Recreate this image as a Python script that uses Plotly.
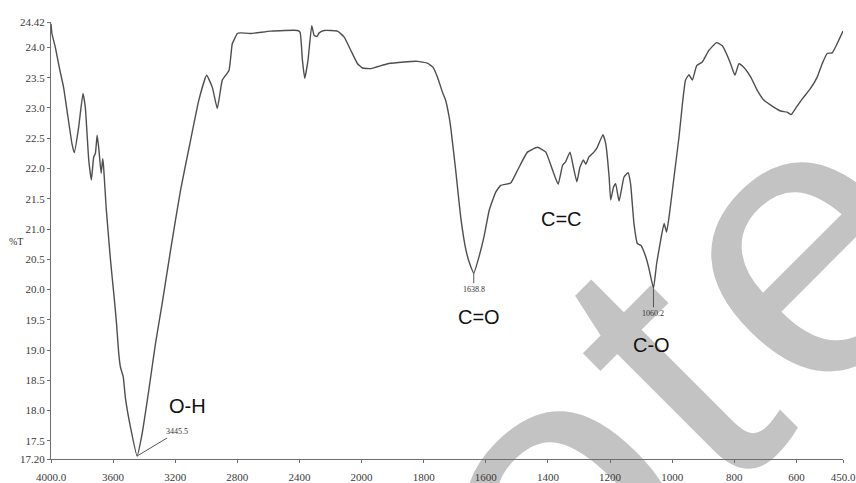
import plotly.graph_objects as go

# FTIR spectrum: wavenumber (cm-1) and transmittance (%T)
wavenumber = [4000, 3994, 3972, 3945, 3919, 3897, 3865, 3850, 3822, 3794, 3779, 3757, 3740,
              3725, 3714, 3703, 3693, 3677, 3667, 3661, 3645, 3639, 3617, 3596, 3579, 3564,
              3553, 3535, 3521, 3493, 3445.5, 3413, 3370, 3327, 3284, 3230, 3166, 3101, 3048,
              2998, 2961, 2929, 2897, 2854, 2833, 2822, 2800, 2779, 2714, 2585, 2413, 2396,
              2381, 2366, 2345, 2321, 2306, 2288, 2273, 2241, 2155, 2112, 2069, 2026, 1997,
              1970, 1916, 1863, 1820, 1788, 1770, 1755, 1739, 1729, 1718, 1713, 1697, 1681,
              1664, 1650, 1638.8, 1622, 1606, 1589, 1568, 1552, 1520, 1498, 1466, 1434, 1407,
              1385, 1367, 1353, 1343, 1329, 1318, 1307, 1297, 1286, 1278, 1268, 1252, 1241,
              1223, 1214, 1203, 1198, 1189, 1182, 1171, 1155, 1142, 1134, 1123, 1112, 1101,
              1085, 1075, 1069, 1060.2, 1050, 1039, 1026, 1018, 1010, 994, 978, 967, 957, 946,
              935, 921, 903, 882, 857, 839, 823, 812, 798, 785, 769, 747, 726, 705, 672, 651,
              630, 617, 603, 581, 555, 533, 517, 501, 485, 469, 450]
transmittance = [24.39, 24.23, 24.00, 23.65, 23.34, 22.96, 22.41, 22.26, 22.68, 23.24, 23.01,
                 22.14, 21.81, 22.19, 22.25, 22.55, 22.35, 21.92, 22.16, 22.02, 21.36, 21.17,
                 20.49, 19.94, 19.47, 18.95, 18.72, 18.56, 18.21, 17.79, 17.25, 17.62, 18.34,
                 19.11, 19.77, 20.65, 21.64, 22.47, 23.13, 23.54, 23.34, 22.99, 23.46, 23.62,
                 24.06, 24.12, 24.23, 24.24, 24.23, 24.27, 24.28, 24.25, 23.79, 23.49, 23.79,
                 24.36, 24.20, 24.18, 24.24, 24.28, 24.27, 24.17, 23.95, 23.73, 23.66, 23.65,
                 23.73, 23.76, 23.77, 23.74, 23.67, 23.50, 23.25, 23.12, 22.85, 22.68, 21.97,
                 21.20, 20.65, 20.40, 20.27, 20.54, 20.87, 21.31, 21.61, 21.72, 21.76, 21.97,
                 22.27, 22.35, 22.27, 21.97, 21.74, 22.05, 22.11, 22.27, 22.02, 21.78, 22.02,
                 22.14, 22.07, 22.19, 22.27, 22.35, 22.56, 22.41, 21.86, 21.48, 21.69, 21.75,
                 21.46, 21.86, 21.93, 21.75, 21.09, 20.76, 20.73, 20.54, 20.35, 20.21, 20.02,
                 20.43, 20.76, 21.09, 20.95, 21.20, 21.86, 22.52, 23.07, 23.46, 23.55, 23.46,
                 23.70, 23.76, 23.95, 24.08, 24.03, 23.87, 23.73, 23.54, 23.73, 23.67, 23.51,
                 23.29, 23.13, 23.01, 22.95, 22.93, 22.89, 22.99, 23.15, 23.32, 23.51, 23.73,
                 23.90, 23.91, 24.06, 24.27]

x_tick_values = [4000, 3600, 3200, 2800, 2400, 2000, 1800, 1600, 1400, 1200, 1000, 800, 600, 450]
x_tick_labels = ["4000.0", "3600", "3200", "2800", "2400", "2000", "1800", "1600", "1400",
                 "1200", "1000", "800", "600", "450.0"]
y_tick_values = [17.20, 17.5, 18.0, 18.5, 19.0, 19.5, 20.0, 20.5, 21.0, 21.5, 22.0, 22.5,
                 23.0, 23.5, 24.0, 24.42]
y_tick_labels = ["17.20", "17.5", "18.0", "18.5", "19.0", "19.5", "20.0", "20.5", "21.0",
                 "21.5", "22.0", "22.5", "23.0", "23.5", "24.0", "24.42"]

# marked peaks: (wavenumber, %T, label, arrow dx, arrow dy)
peak_marks = [(3445.5, 17.25, "3445.5", 40, -24), (1638.8, 20.27, "1638.8", 0, 16),
              (1060.2, 20.02, "1060.2", 0, 25)]
# band assignments: (text, wavenumber, %T)
band_labels = [("O-H", 3124, 18.08), ("C=O", 1622, 19.54), ("C=C", 1355, 21.16),
               ("C-O", 1065, 19.08)]


def axis_pos(w):
    """Instrument-style abscissa: compressed above 2000 cm-1, expanded below."""
    return (4000 - w) / 2 if w >= 2000 else 1000 + (2000 - w)


AXIS_GRAY = "#6e6e6e"
SERIF = "Liberation Serif"

fig = go.Figure()
fig.add_trace(go.Scatter(
    x=[axis_pos(w) for w in wavenumber], y=transmittance, mode="lines",
    line=dict(color="#4e4e4e", width=1.4, shape="spline", smoothing=0.4),
    hoverinfo="skip", showlegend=False))

annotations = []
for w, t, txt, dx, dy in peak_marks:
    annotations.append(dict(
        x=axis_pos(w), y=t, xref="x", yref="y", text=txt, showarrow=True, arrowhead=0,
        arrowwidth=1, arrowcolor="#555555", ax=dx, ay=dy,
        font=dict(family=SERIF, size=8, color="#333333")))
for txt, w, t in band_labels:
    annotations.append(dict(
        x=axis_pos(w), y=t, xref="x", yref="y", text=txt, showarrow=False,
        font=dict(family="Liberation Sans", size=20, color="#111111")))
annotations.append(dict(x=-0.033, y=0.497, xref="paper", yref="paper", text="%T",
                        showarrow=False, xanchor="right",
                        font=dict(family=SERIF, size=10, color="#333333")))

# faint "ote" watermark lettering behind the spectrum
mark_letters = [("o", 0.596, -0.023), ("t", 0.745, 0.265), ("e", 0.904, 0.551)]
shapes = []
for ch, xp, yp in mark_letters:
    shapes.append(dict(
        type="rect", xref="paper", yref="paper", x0=xp - 0.001, x1=xp + 0.001,
        y0=yp - 0.001, y1=yp + 0.001, line=dict(width=0), fillcolor="rgba(0,0,0,0)",
        layer="below",
        label=dict(text=ch, textangle=-45, textposition="middle center",
                   font=dict(family="Liberation Sans", size=390, color="#c3c3c3"))))

fig.update_layout(
    width=856, height=483, margin=dict(l=51, r=13, t=22, b=24, autoexpand=False),
    paper_bgcolor="white", plot_bgcolor="rgba(0,0,0,0)",
    annotations=annotations, shapes=shapes,
    xaxis=dict(range=[axis_pos(4000), axis_pos(450)], tickmode="array",
               tickvals=[axis_pos(w) for w in x_tick_values], ticktext=x_tick_labels,
               showgrid=False, zeroline=False, showline=True, linecolor=AXIS_GRAY,
               linewidth=1, ticks="outside", ticklen=3, tickcolor=AXIS_GRAY,
               ticklabelstandoff=5, automargin=False,
               tickfont=dict(family=SERIF, size=11, color="#3a3a3a")),
    yaxis=dict(range=[17.20, 24.42], tickmode="array", tickvals=y_tick_values,
               ticktext=y_tick_labels, showgrid=False, zeroline=False, showline=True,
               linecolor=AXIS_GRAY, linewidth=1, ticks="outside", ticklen=3,
               tickcolor=AXIS_GRAY, automargin=False,
               tickfont=dict(family=SERIF, size=11, color="#3a3a3a")),
)

fig.write_html("out.html")
